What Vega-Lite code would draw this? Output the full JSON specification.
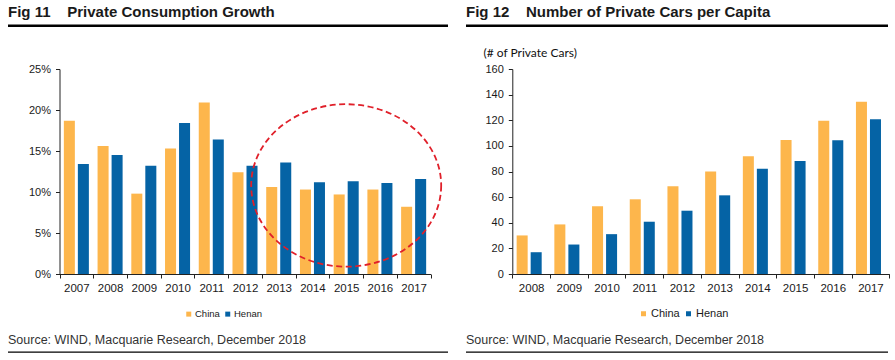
{
  "$schema": "https://vega.github.io/schema/vega-lite/v6.json",
  "autosize": {"type": "pad"},
  "padding": {"left": 8, "top": 4.5, "right": 0, "bottom": 0},
  "background": "white",
  "config": {
    "font": "Liberation Sans",
    "view": {"stroke": null},
    "axis": {"labelFont": "Liberation Sans", "labelColor": "#1a1a1a", "domainColor": "#222", "tickColor": "#222", "grid": false, "titleFont": "Liberation Sans"},
    "title": {"anchor": "start", "font": "Liberation Sans", "fontSize": 15, "fontWeight": "bold", "color": "#1a1a1a", "baseline": "alphabetic"}
  },
  "datasets": {
    "consumption": [
      {"year": "2007", "region": "China", "value": 18.7},
      {"year": "2008", "region": "China", "value": 15.6},
      {"year": "2009", "region": "China", "value": 9.8},
      {"year": "2010", "region": "China", "value": 15.3},
      {"year": "2011", "region": "China", "value": 20.9},
      {"year": "2012", "region": "China", "value": 12.4},
      {"year": "2013", "region": "China", "value": 10.6},
      {"year": "2014", "region": "China", "value": 10.3},
      {"year": "2015", "region": "China", "value": 9.7},
      {"year": "2016", "region": "China", "value": 10.3},
      {"year": "2017", "region": "China", "value": 8.2},
      {"year": "2007", "region": "Henan", "value": 13.4},
      {"year": "2008", "region": "Henan", "value": 14.5},
      {"year": "2009", "region": "Henan", "value": 13.2},
      {"year": "2010", "region": "Henan", "value": 18.4},
      {"year": "2011", "region": "Henan", "value": 16.4},
      {"year": "2012", "region": "Henan", "value": 13.2},
      {"year": "2013", "region": "Henan", "value": 13.6},
      {"year": "2014", "region": "Henan", "value": 11.2},
      {"year": "2015", "region": "Henan", "value": 11.3},
      {"year": "2016", "region": "Henan", "value": 11.1},
      {"year": "2017", "region": "Henan", "value": 11.6}
    ],
    "highlight": [
      {"year": "2015", "value": 10.8}
    ],
    "cars": [
      {"year": "2008", "region": "China", "value": 30.1},
      {"year": "2009", "region": "China", "value": 38.7},
      {"year": "2010", "region": "China", "value": 52.8},
      {"year": "2011", "region": "China", "value": 58.3},
      {"year": "2012", "region": "China", "value": 68.5},
      {"year": "2013", "region": "China", "value": 80},
      {"year": "2014", "region": "China", "value": 92},
      {"year": "2015", "region": "China", "value": 104.6},
      {"year": "2016", "region": "China", "value": 119.7},
      {"year": "2017", "region": "China", "value": 134.4},
      {"year": "2008", "region": "Henan", "value": 17},
      {"year": "2009", "region": "Henan", "value": 23},
      {"year": "2010", "region": "Henan", "value": 31.1},
      {"year": "2011", "region": "Henan", "value": 40.8},
      {"year": "2012", "region": "Henan", "value": 49.4},
      {"year": "2013", "region": "Henan", "value": 61.4},
      {"year": "2014", "region": "Henan", "value": 82.1},
      {"year": "2015", "region": "Henan", "value": 88.1},
      {"year": "2016", "region": "Henan", "value": 104.3},
      {"year": "2017", "region": "Henan", "value": 120.8}
    ]
  },
  "bounds": "flush",
  "columns": 2,
  "spacing": {"row": 41.5, "column": 18},
  "resolve": {"scale": {"color": "independent"}, "legend": {"color": "independent"}},
  "concat": [
    {
      "width": 440,
      "height": 2.5,
      "view": {"fill": "#000000", "stroke": null},
      "title": {"text": "Fig 11\u00a0\u00a0\u00a0\u00a0Private Consumption Growth", "offset": 4.5},
      "data": {"values": []},
      "mark": "text"
    },
    {
      "width": 422,
      "height": 2.5,
      "view": {"fill": "#000000", "stroke": null},
      "title": {"text": "Fig 12\u00a0\u00a0\u00a0\u00a0Number of Private Cars per Capita", "offset": 4.5},
      "data": {"values": []},
      "mark": "text"
    },
    {
      "width": 440,
      "height": 241,
      "data": {"name": "consumption"},
      "layer": [
        {
          "mark": {"type": "bar"},
          "encoding": {
            "x": {
              "field": "year", "type": "nominal",
              "scale": {"range": [51.5, 422.5], "paddingInner": 0, "paddingOuter": 0},
              "axis": {"title": null, "labelAngle": 0, "tickBand": "extent", "tickSize": 4, "labelPadding": 4, "labelFontSize": 11.5, "offset": -36}
            },
            "xOffset": {
              "field": "region", "type": "nominal", "sort": ["China", "Henan"],
              "scale": {"paddingInner": 0.214, "paddingOuter": 0.31}
            },
            "y": {
              "field": "value", "type": "quantitative",
              "scale": {"domain": [0, 25], "range": [205, 0], "nice": false},
              "axis": {"title": null, "values": [0, 5, 10, 15, 20, 25], "labelExpr": "datum.value + '%'", "offset": -51.5, "tickSize": 4, "labelPadding": 5, "labelFontSize": 11}
            },
            "color": {
              "field": "region", "type": "nominal",
              "scale": {"domain": ["China", "Henan"], "range": ["#FDB64C", "#0563A5"]},
              "legend": {"orient": "none", "legendX": 176, "legendY": 240, "direction": "horizontal", "title": null, "symbolType": "square", "symbolSize": 25, "labelFontSize": 9.5, "labelOffset": 1.5, "columnPadding": 3, "padding": 0, "labelColor": "#1a1a1a", "symbolStrokeWidth": 0}
            }
          }
        },
        {
          "data": {"name": "highlight"},
          "mark": {"type": "point", "shape": "M1,0C1,0.4722,0.5523,0.855,0,0.855C-0.5523,0.855,-1,0.4722,-1,0C-1,-0.4722,-0.5523,-0.855,0,-0.855C0.5523,-0.855,1,-0.4722,1,0Z", "size": 36100, "filled": false, "stroke": "#E0202A", "strokeWidth": 1.8, "strokeDash": [6, 3.5], "opacity": 1},
          "encoding": {
            "x": {"field": "year", "type": "nominal"},
            "y": {"field": "value", "type": "quantitative"}
          }
        }
      ]
    },
    {
      "width": 422,
      "height": 241,
      "data": {"name": "cars"},
      "mark": {"type": "bar"},
      "encoding": {
        "x": {
          "field": "year", "type": "nominal",
          "scale": {"range": [46.3, 423.3], "paddingInner": 0, "paddingOuter": 0},
          "axis": {"title": null, "labelAngle": 0, "tickBand": "extent", "tickSize": 4, "labelPadding": 4, "labelFontSize": 11.5, "offset": -36}
        },
        "xOffset": {
          "field": "region", "type": "nominal", "sort": ["China", "Henan"],
          "scale": {"paddingInner": 0.196, "paddingOuter": 0.33}
        },
        "y": {
          "field": "value", "type": "quantitative",
          "scale": {"domain": [0, 160], "range": [205, 0], "nice": false},
          "axis": {"title": "(# of Private Cars)", "titleAngle": 0, "titleAlign": "left", "titleBaseline": "alphabetic", "titleX": -29.3, "titleY": -13, "titleFont": "Lato", "titleFontSize": 12, "titleFontWeight": "normal", "titleColor": "#111111", "values": [0, 20, 40, 60, 80, 100, 120, 140, 160], "offset": -46.3, "tickSize": 4, "labelPadding": 5, "labelFontSize": 11}
        },
        "color": {
          "field": "region", "type": "nominal",
          "scale": {"domain": ["China", "Henan"], "range": ["#FDB64C", "#0563A5"]},
          "legend": {"orient": "none", "legendX": 172, "legendY": 239, "direction": "horizontal", "title": null, "symbolType": "square", "symbolSize": 25, "labelFontSize": 11, "labelOffset": 2, "columnPadding": 3, "padding": 0, "labelColor": "#1a1a1a", "symbolStrokeWidth": 0}
        }
      }
    },
    {
      "width": 440,
      "height": 1.3,
      "view": {"fill": "#000000", "stroke": null},
      "title": {"text": "Source: WIND, Macquarie Research, December 2018", "fontSize": 12.5, "fontWeight": "normal", "color": "#333333", "offset": 4.8},
      "data": {"values": []},
      "mark": "text"
    },
    {
      "width": 422,
      "height": 1.3,
      "view": {"fill": "#000000", "stroke": null},
      "title": {"text": "Source: WIND, Macquarie Research, December 2018", "fontSize": 12.5, "fontWeight": "normal", "color": "#333333", "offset": 4.8},
      "data": {"values": []},
      "mark": "text"
    }
  ]
}
